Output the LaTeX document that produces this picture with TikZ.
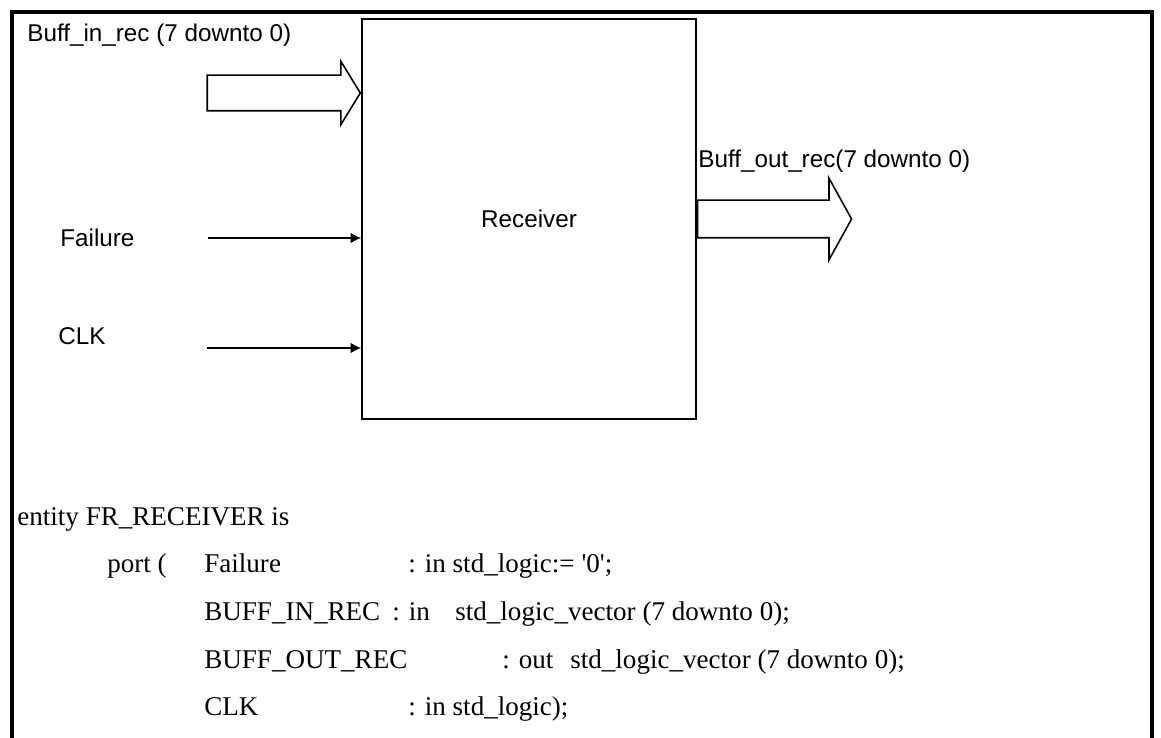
\documentclass[tikz,border=0pt]{standalone}
\usepackage{fontspec}
\setmainfont{Liberation Serif}
\setsansfont{Liberation Sans}
\usepackage{tikz}
\usetikzlibrary{arrows.meta, positioning, shapes.arrows}
\tikzset{
  frameline/.style={line width=1.8pt,black},
  blockbox/.style={draw,line width=0.9pt,minimum width=6.68cm,minimum height=8cm,inner sep=0pt,font=\sffamily\fontsize{13.8}{16}\selectfont},
  busarrow/.style={single arrow,draw,line width=0.9pt,inner xsep=0pt,text height=0pt,text depth=0pt,single arrow head indent=0pt},
  sigline/.style={-{Latex[length=6pt,width=6pt]},line width=0.9pt},
  portlbl/.style={inner sep=0pt,anchor=base west,font=\sffamily\fontsize{13.8}{16}\selectfont},
  codetxt/.style={inner sep=0pt,anchor=base west,font=\fontsize{15.4}{18}\selectfont},
}

\begin{document}
\begin{tikzpicture}
  \useasboundingbox (0,0) rectangle (23.22,-14.76);
  % outer frame, open at the bottom
  \draw[frameline] (0.24,-15.00) -- (0.24,-0.24) -- (23.04,-0.24) -- (23.04,-15.00);
  \node[blockbox] (rcv) at (10.58,-4.38) {Receiver};
  \node[busarrow,minimum height=3.06cm,inner ysep=0.34cm,single arrow head extend=0.28cm,single arrow tip angle=117,anchor=tip] (busIn) at (rcv.west |- 0,-1.86) {};
  \node[busarrow,minimum height=3.08cm,inner ysep=0.36cm,single arrow head extend=0.44cm,single arrow tip angle=122,anchor=tail] (busOut) at (rcv.east) {};
  \node[portlbl] (lblBusIn) at (0.54,-0.84) {Buff\_in\_rec (7 downto 0)};
  \node[portlbl] (lblBusOut) at (13.96,-3.36) {Buff\_out\_rec(7 downto 0)};
  \node[portlbl] (lblFail) at (1.20,-4.94) {Failure};
  \node[portlbl] (lblClk) at (1.16,-6.88) {CLK};
  \coordinate (failIn) at (4.16,-4.76);
  \coordinate (clkIn) at (4.14,-6.96);
  \draw[sigline] (failIn) -- (failIn -| rcv.west);
  \draw[sigline] (clkIn) -- (clkIn -| rcv.west);
  % entity declaration
  \node[codetxt] (cEntity) at (0.34,-10.50) {entity FR\_RECEIVER is};
  \node[codetxt] (cPort) at (2.14,-11.44) {port (};
  \node[codetxt] (cFail) at (4.08,-11.44) {Failure};
  \node[codetxt] (cFailT) at (8.16,-11.44) {: in std\_logic:= \textquotesingle 0\textquotesingle;};
  \node[codetxt] (cIn) at (4.08,-12.40) {BUFF\_IN\_REC};
  \node[codetxt] (cInM) at (7.84,-12.40) {: in};
  \node[codetxt] (cInT) at (9.10,-12.40) {std\_logic\_vector (7 downto 0);};
  \node[codetxt] (cOut) at (4.08,-13.36) {BUFF\_OUT\_REC};
  \node[codetxt] (cOutM) at (10.04,-13.36) {: out};
  \node[codetxt] (cOutT) at (11.40,-13.36) {std\_logic\_vector (7 downto 0);};
  \node[codetxt] (cClk) at (4.08,-14.30) {CLK};
  \node[codetxt] (cClkT) at (8.16,-14.30) {: in std\_logic);};
\end{tikzpicture}
\end{document}
